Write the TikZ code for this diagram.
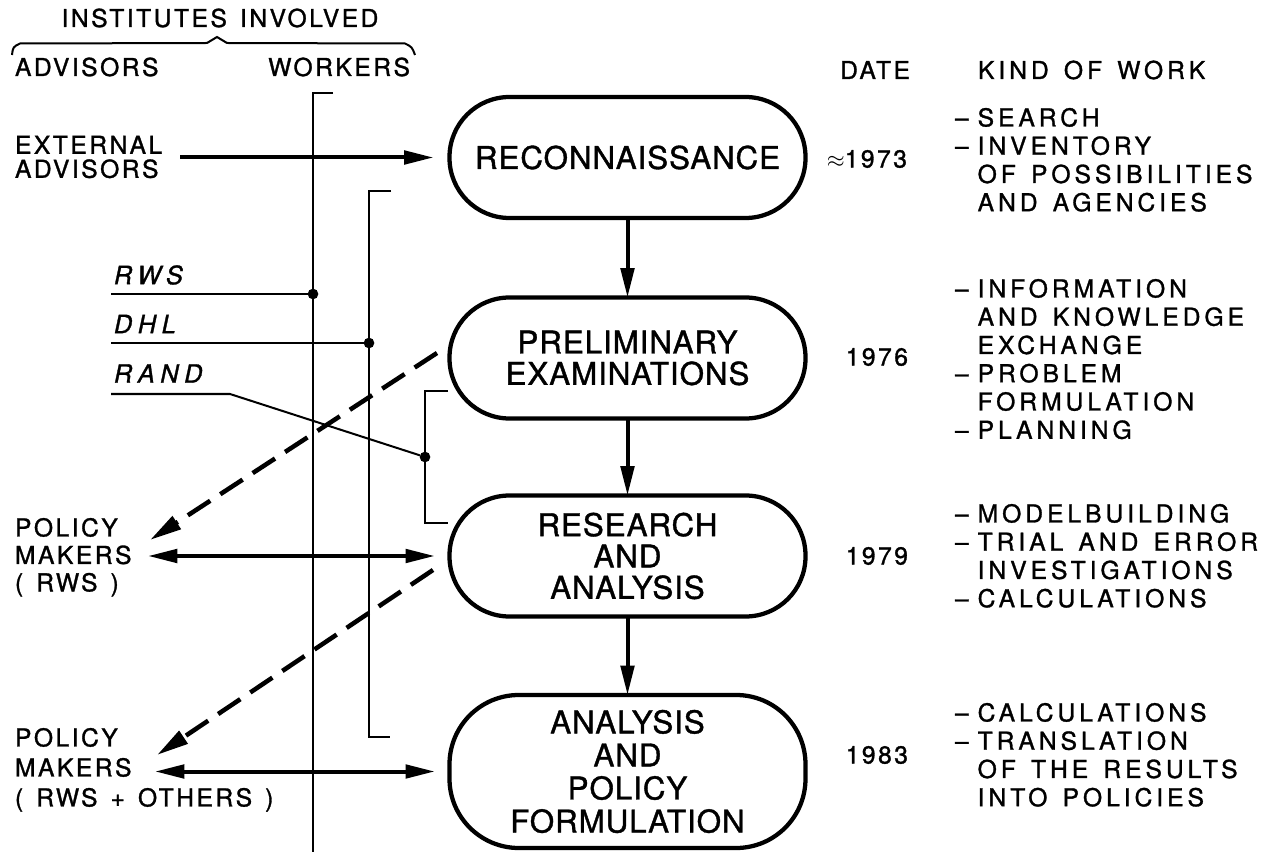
\documentclass[tikz,border=0pt]{standalone}
\usepackage{fontspec}
\setmainfont{TeX Gyre Heros}[LetterSpace=10,WordSpace=1.4,FakeBold=1.2]
\usetikzlibrary{arrows.meta}

% list markers for the "kind of work" column
\newcommand{\itm}{\makebox[17pt][l]{–}}
\newcommand{\cnt}{\hspace*{17pt}}

\tikzset{
  every node/.style={inner sep=0pt, outer sep=0pt},
  lbl/.style={font=\fontsize{18.5}{21.2}\selectfont, align=left},
  work/.style={font=\fontsize{18.5}{21.2}\selectfont\addfontfeatures{LetterSpace=16}, align=left},
  org/.style={font=\fontsize{19}{21}\selectfont\itshape\addfontfeatures{LetterSpace=22}},
  stage/.style={draw, line width=3.2pt, rounded corners=45pt,
    minimum width=267pt, minimum height=90.75pt, align=center,
    font=\fontsize{23.5}{23.5}\selectfont\addfontfeatures{LetterSpace=3}},
  flow/.style={line width=3pt, -{Triangle[length=22pt,width=10pt]}},
  both/.style={line width=3pt, {Triangle[length=22pt,width=10pt]}-{Triangle[length=22pt,width=10pt]}},
  feed/.style={line width=3.4pt, dash pattern=on 20pt off 9pt, -{Triangle[length=24pt,width=11pt]}},
  wire/.style={line width=1.5pt},
  joint/.style={circle, fill, minimum size=8pt},
}

\begin{document}
\begin{tikzpicture}[x=0.75pt,y=-0.75pt]
\useasboundingbox (0,0) rectangle (1275,852);

% ---- column headings
\node[lbl] (inst) at (220,18) {INSTITUTES INVOLVED};
\draw[wire] (12,55) .. controls (13,47) .. (20,43.5) -- (207,43) -- (217,37) -- (227,43)
  -- (405,43.5) .. controls (412,47) .. (415,55);
\node[lbl, anchor=west] (adv) at (15,67) {ADVISORS};
\node[lbl, anchor=east] (wrk) at (410,67) {WORKERS};
\node[lbl, anchor=east] (date) at (910,70) {DATE};
\node[work, anchor=west] (kind) at (978,70) {KIND OF WORK};

% ---- stages
\node[stage] (n1) at (627.5,157.5) {RECONNAISSANCE};
\node[stage] (n2) at (627.5,358) {PRELIMINARY\\EXAMINATIONS};
\node[stage] (n3) at (627.5,556) {RESEARCH\\AND\\ANALYSIS};
\node[stage, minimum height=114.75pt, rounded corners=52pt,
  font=\fontsize{23.5}{24.8}\selectfont\addfontfeatures{LetterSpace=3}] (n4) at (627.5,771.5)
  {ANALYSIS\\AND\\POLICY\\FORMULATION};

\draw[flow] (n1) -- (n2);
\draw[flow] (n2) -- (n3);
\draw[flow] (n3) -- (n4);

% ---- workers' lines
\coordinate (w1t) at (333,93);
\coordinate (w1a) at (313,93);
\coordinate (w1b) at (313,852);
\draw[wire] (w1t) -- (w1a) -- (w1b);

\coordinate (w2t) at (391,191);
\coordinate (w2a) at (369,191);
\coordinate (w2b) at (369,737);
\coordinate (w2e) at (390,737);
\draw[wire] (w2t) -- (w2a) -- (w2b) -- (w2e);

\coordinate (w3t) at (448,391);
\coordinate (w3a) at (425,391);
\coordinate (w3b) at (425,523);
\coordinate (w3e) at (448,523);
\draw[wire] (w3t) -- (w3a) -- (w3b) -- (w3e);

% ---- institutes
\node[org, anchor=west] (rws) at (114,275) {RWS};
\node[org, anchor=west] (dhl) at (114,324) {DHL};
\node[org, anchor=west] (rand) at (114,373.5) {RAND};

\coordinate (rwsL) at (111,294);
\coordinate (dhlL) at (111,343);
\coordinate (randL) at (111,394);
\coordinate (randK) at (230,394);
\node[joint] (rwsJ) at (313,294) {};
\node[joint] (dhlJ) at (369,343) {};
\node[joint] (randJ) at (425,457) {};
\draw[wire] (rwsL) -- (rwsJ);
\draw[wire] (dhlL) -- (dhlJ);
\draw[wire] (randL) -- (randK) -- (randJ);

% ---- advisors and policy makers
\node[lbl, anchor=west, font=\fontsize{18.5}{18}\selectfont] (ext) at (15,157) {EXTERNAL\\ADVISORS};
\node[lbl, anchor=north west, font=\fontsize{18.5}{20.6}\selectfont] (pm1) at (15,518) {POLICY\\MAKERS\\( RWS )};
\node[lbl, anchor=north west, font=\fontsize{18.5}{22.5}\selectfont] (pm2) at (15,728) {POLICY\\MAKERS\\( RWS + OTHERS )};

\coordinate (extA) at (180,157.5);
\draw[flow, shorten >=12pt] (extA) -- (n1.west);

\coordinate (pm1A) at (148,556);
\draw[both, shorten >=11pt] (pm1A) -- (n3.west);
\coordinate (pm2A) at (155,771.5);
\draw[both, shorten >=11pt] (pm2A) -- (n4.west);

\coordinate (f1s) at (437,353);
\coordinate (f1e) at (150,540);
\draw[feed] (f1s) -- (f1e);
\coordinate (f2s) at (433,570);
\coordinate (f2e) at (157,755);
\draw[feed] (f2s) -- (f2e);

% ---- dates
\node[lbl, anchor=east] (d73) at (907,159) {$\approx$1973};
\node[lbl, anchor=east] (d76) at (908,357) {1976};
\node[lbl, anchor=east] (d79) at (908,556) {1979};
\node[lbl, anchor=east] (d83) at (908,755) {1983};

% ---- kind of work
\node[work, anchor=north west] (k1) at (955,108)
  {\itm SEARCH\\\itm INVENTORY\\\cnt OF POSSIBILITIES\\\cnt AND AGENCIES};
\node[work, anchor=north west] (k2) at (955,279)
  {\itm INFORMATION\\\cnt AND KNOWLEDGE\\\cnt EXCHANGE\\\itm PROBLEM\\\cnt FORMULATION\\\itm PLANNING};
\node[work, anchor=north west] (k3) at (955,504)
  {\itm MODELBUILDING\\\itm TRIAL AND ERROR\\\cnt INVESTIGATIONS\\\itm CALCULATIONS};
\node[work, anchor=north west] (k4) at (955,703)
  {\itm CALCULATIONS\\\itm TRANSLATION\\\cnt OF THE RESULTS\\\cnt INTO POLICIES};
\end{tikzpicture}
\end{document}
